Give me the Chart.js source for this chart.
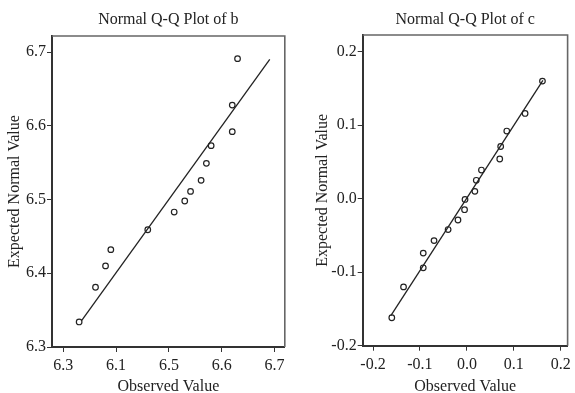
<!DOCTYPE html>
<html>
<head>
<meta charset="utf-8">
<script src="https://cdn.jsdelivr.net/npm/chart.js@4/dist/chart.umd.min.js"></script>
<style>
  html, body { margin: 0; padding: 0; background: #fff; }
  #wrap { position: relative; width: 575px; height: 393px; overflow: hidden; }
  #left { position: absolute; left: 0; top: 0; }
  #right { position: absolute; left: 290px; top: 0; }
</style>
</head>
<body>
<div id="wrap">
  <canvas id="left" width="290" height="393"></canvas>
  <canvas id="right" width="285" height="393"></canvas>
</div>
<script>
// ------------------ Data --------------------

// Q-Q plot of b
var bObserved = [6.330, 6.361, 6.380, 6.390, 6.460, 6.510, 6.530, 6.541, 6.561, 6.571, 6.580, 6.620, 6.620, 6.630];
var bExpected = [6.334, 6.381, 6.410, 6.432, 6.459, 6.483, 6.498, 6.511, 6.526, 6.549, 6.573, 6.592, 6.628, 6.691];
var bLineX = [6.335, 6.691];
var bLineY = [6.336, 6.690];
var bTicks = [6.3, 6.4, 6.5, 6.6, 6.7];
var bXTickLabels = ["6.3", "6.1", "6.5", "6.6", "6.7"];
var bYTickLabels = ["6.3", "6.4", "6.5", "6.6", "6.7"];

// Q-Q plot of c
var cObserved = [-0.160, -0.135, -0.093, -0.093, -0.070, -0.040, -0.019, -0.005, -0.004, 0.017, 0.020, 0.031, 0.070, 0.072, 0.085, 0.124, 0.161];
var cExpected = [-0.162, -0.120, -0.094, -0.074, -0.057, -0.042, -0.029, -0.015, -0.001, 0.010, 0.025, 0.039, 0.054, 0.071, 0.092, 0.116, 0.160];
var cLineX = [-0.162, 0.162];
var cLineY = [-0.159, 0.161];
var cTicks = [-0.2, -0.1, 0.0, 0.1, 0.2];
var cXTickLabels = ["-0.2", "-0.1", "0.0", "0.1", "0.2"];
var cYTickLabels = ["-0.2", "-0.1", "0.0", "0.1", "0.2"];

// ----- INIT ------

var FONT = "'Liberation Serif', 'Times New Roman', serif";
var TEXT = '#222';

function toPoints(xs, ys) {
  var pts = [];
  for (var i = 0; i < xs.length; i++) pts.push({x: xs[i], y: ys[i]});
  return pts;
}

// top and right edge of the frame
var frame = {
  id: 'frame',
  afterDraw: function(chart) {
    var a = chart.chartArea;
    var ctx = chart.ctx;
    ctx.save();
    ctx.strokeStyle = '#666';
    ctx.lineWidth = 1.6;
    ctx.beginPath();
    ctx.moveTo(a.left, a.top);
    ctx.lineTo(a.right, a.top);
    ctx.lineTo(a.right, a.bottom);
    ctx.stroke();
    ctx.restore();
  }
};

function makeQQ(id, o) {
  var ctx = document.getElementById(id).getContext('2d');
  return new Chart(ctx, {
    type: 'scatter',
    data: {
      datasets: [
        {
          data: toPoints(o.obs, o.exp),
          pointStyle: 'circle',
          pointRadius: 2.8,
          pointBorderWidth: 1.2,
          pointBorderColor: '#222',
          pointBackgroundColor: 'rgba(0,0,0,0)'
        },
        {
          type: 'line',
          data: toPoints(o.lineX, o.lineY),
          borderColor: '#222',
          borderWidth: 1.3,
          pointRadius: 0,
          fill: false
        }
      ]
    },
    options: {
      responsive: false,
      animation: false,
      layout: { padding: { left: 0, right: o.padRight, top: 0, bottom: 0 } },
      plugins: {
        legend: { display: false },
        tooltip: { enabled: false }
      },
      scales: {
        // top axis only carries the plot title, centred over the plot area
        top: {
          type: 'linear',
          position: 'top',
          min: o.xMin, max: o.xMax,
          afterFit: function(s) { s.height = o.topHeight; },
          ticks: { display: false },
          grid: { display: false, drawTicks: false },
          border: { display: false },
          title: {
            display: true, text: o.title, color: TEXT,
            font: { family: FONT, size: 16, lineHeight: 1.2 },
            padding: { top: 10, bottom: 0 }
          }
        },
        x: {
          type: 'linear',
          position: 'bottom',
          min: o.xMin, max: o.xMax,
          afterBuildTicks: function(s) { s.ticks = o.ticks.map(function(v) { return {value: v}; }); },
          afterFit: function(s) { s.height = o.xHeight; },
          ticks: {
            autoSkip: false, maxRotation: 0, padding: 4, color: TEXT,
            font: { family: FONT, size: 16 },
            callback: function(v, i) { return o.xLabels[i]; }
          },
          grid: { drawOnChartArea: false, drawTicks: true, tickLength: 5, color: '#333' },
          border: { display: true, color: '#333', width: 2 },
          title: {
            display: true, text: 'Observed Value', color: TEXT,
            font: { family: FONT, size: 16, lineHeight: 0.75 },
            padding: { top: 0, bottom: 0 }
          }
        },
        y: {
          type: 'linear',
          min: o.yMin, max: o.yMax,
          afterBuildTicks: function(s) { s.ticks = o.ticks.map(function(v) { return {value: v}; }); },
          afterFit: function(s) { s.width = o.yWidth; },
          ticks: {
            autoSkip: false, padding: 1, color: TEXT,
            font: { family: FONT, size: 16 },
            callback: function(v, i) { return o.yLabels[i]; }
          },
          grid: { drawOnChartArea: false, drawTicks: true, tickLength: 5, color: '#333' },
          border: { display: true, color: '#333', width: 2 },
          title: {
            display: true, text: 'Expected Normal Value', color: TEXT,
            font: { family: FONT, size: 16, lineHeight: 1.2 },
            padding: { top: o.yTitlePad, bottom: 0 }
          }
        }
      }
    },
    plugins: [frame]
  });
}

var left = makeQQ('left', {
  title: 'Normal Q-Q Plot of b',
  obs: bObserved, exp: bExpected, lineX: bLineX, lineY: bLineY,
  ticks: bTicks, xLabels: bXTickLabels, yLabels: bYTickLabels,
  xMin: 6.2786, xMax: 6.7195, yMin: 6.3, yMax: 6.7217,
  yWidth: 52, xHeight: 46, topHeight: 36, padRight: 5, yTitlePad: 5.4
});

var right = makeQQ('right', {
  title: 'Normal Q-Q Plot of c',
  obs: cObserved, exp: cExpected, lineX: cLineX, lineY: cLineY,
  ticks: cTicks, xLabels: cXTickLabels, yLabels: cYTickLabels,
  xMin: -0.222, xMax: 0.2146, yMin: -0.2, yMax: 0.2227,
  yWidth: 72.7, xHeight: 47.3, topHeight: 35, padRight: 3.3, yTitlePad: 23.4
});
</script>
</body>
</html>
